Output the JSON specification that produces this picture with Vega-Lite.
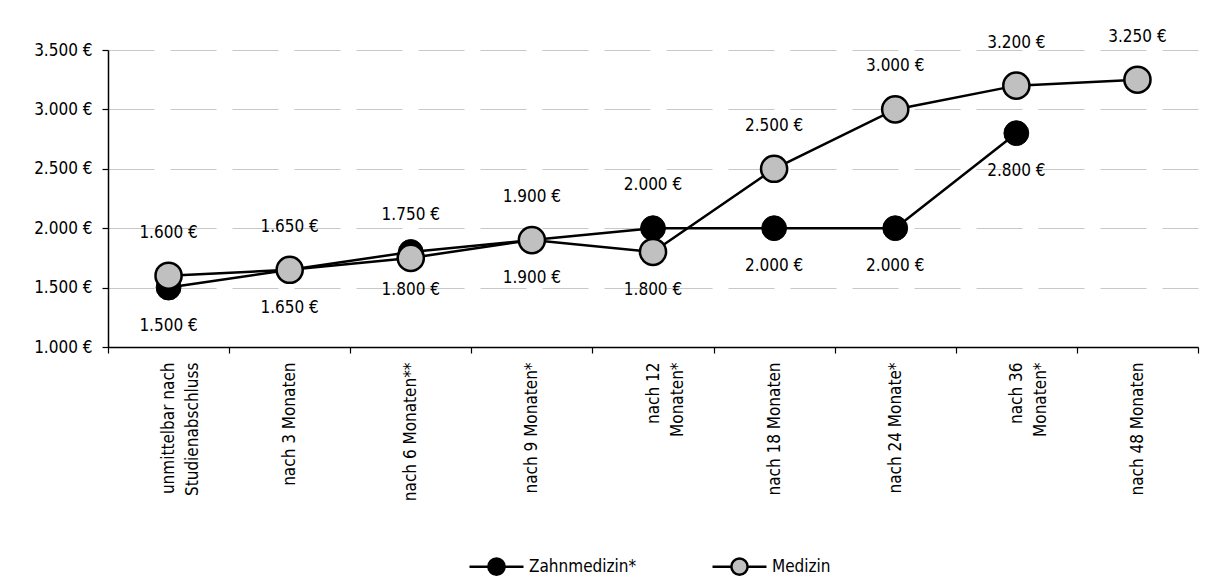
{
  "$schema": "https://vega.github.io/schema/vega-lite/v6.json",
  "width": 1090,
  "height": 297,
  "autosize": {"type": "none"},
  "padding": {"left": 108, "top": 50, "right": 8, "bottom": 239},
  "background": "white",
  "config": {
    "view": {"stroke": null},
    "font": "DejaVu Sans Condensed, Liberation Sans Narrow, sans-serif",
    "locale": {"number": {"decimal": ",", "thousands": ".", "grouping": [3], "currency": ["", " €"]}}
  },
  "data": {
    "values": [
      {"zeit": "unmittelbar nach Studienabschluss", "reihe": "Zahnmedizin*", "wert": 1500},
      {"zeit": "nach 3 Monaten", "reihe": "Zahnmedizin*", "wert": 1650},
      {"zeit": "nach 6 Monaten**", "reihe": "Zahnmedizin*", "wert": 1800},
      {"zeit": "nach 9 Monaten*", "reihe": "Zahnmedizin*", "wert": 1900},
      {"zeit": "nach 12 Monaten*", "reihe": "Zahnmedizin*", "wert": 2000},
      {"zeit": "nach 18 Monaten", "reihe": "Zahnmedizin*", "wert": 2000},
      {"zeit": "nach 24 Monate*", "reihe": "Zahnmedizin*", "wert": 2000},
      {"zeit": "nach 36 Monaten*", "reihe": "Zahnmedizin*", "wert": 2800},
      {"zeit": "unmittelbar nach Studienabschluss", "reihe": "Medizin", "wert": 1600},
      {"zeit": "nach 3 Monaten", "reihe": "Medizin", "wert": 1650},
      {"zeit": "nach 6 Monaten**", "reihe": "Medizin", "wert": 1750},
      {"zeit": "nach 9 Monaten*", "reihe": "Medizin", "wert": 1900},
      {"zeit": "nach 12 Monaten*", "reihe": "Medizin", "wert": 1800},
      {"zeit": "nach 18 Monaten", "reihe": "Medizin", "wert": 2500},
      {"zeit": "nach 24 Monate*", "reihe": "Medizin", "wert": 3000},
      {"zeit": "nach 36 Monaten*", "reihe": "Medizin", "wert": 3200},
      {"zeit": "nach 48 Monaten", "reihe": "Medizin", "wert": 3250}
    ]
  },
  "encoding": {
    "x": {
      "field": "zeit",
      "type": "nominal",
      "sort": ["unmittelbar nach Studienabschluss", "nach 3 Monaten", "nach 6 Monaten**", "nach 9 Monaten*", "nach 12 Monaten*", "nach 18 Monaten", "nach 24 Monate*", "nach 36 Monaten*", "nach 48 Monaten"],
      "scale": {"type": "band", "paddingInner": 0, "paddingOuter": 0},
      "axis": {
        "title": null,
        "labelAngle": -90,
        "labelAlign": "right",
        "labelBaseline": "middle",
        "labelFontSize": 17,
        "labelColor": "black",
        "labelLineHeight": 24,
        "labelLimit": 400,
        "labelPadding": 9,
        "domainColor": "black",
        "domainWidth": 1.5,
        "tickColor": "black",
        "tickSize": 6,
        "tickWidth": 1.2,
        "tickBand": "extent",
        "grid": false,
        "labelExpr": "datum.value == 'unmittelbar nach Studienabschluss' ? ['unmittelbar nach', 'Studienabschluss'] : datum.value == 'nach 12 Monaten*' ? ['nach 12', 'Monaten*'] : datum.value == 'nach 36 Monaten*' ? ['nach 36', 'Monaten*'] : datum.label"
      }
    },
    "y": {
      "field": "wert",
      "type": "quantitative",
      "scale": {"domain": [1000, 3500], "nice": false, "zero": false},
      "axis": {
        "title": null,
        "values": [1000, 1500, 2000, 2500, 3000, 3500],
        "format": "$,.0f",
        "labelFontSize": 17,
        "labelColor": "black",
        "labelPadding": 10,
        "domainColor": "black",
        "domainWidth": 1.5,
        "tickColor": "black",
        "tickSize": 6,
        "tickWidth": 1.2,
        "grid": true,
        "gridColor": "#c8c8c8",
        "gridDash": [46, 16],
        "gridWidth": 1.2
      }
    }
  },
  "layer": [
    {
      "mark": {"type": "line", "stroke": "black", "strokeWidth": 2.5},
      "encoding": {"detail": {"field": "reihe", "type": "nominal"}}
    },
    {
      "transform": [{"filter": "datum.reihe == 'Zahnmedizin*'"}],
      "mark": {"type": "point", "shape": "circle", "filled": true, "opacity": 1, "size": 616, "stroke": "black", "strokeWidth": 1},
      "encoding": {
        "fill": {
          "field": "reihe",
          "type": "nominal",
          "scale": {"domain": ["Zahnmedizin*", "Medizin"], "range": ["black", "#c0c0c0"]},
          "legend": {
            "title": null,
            "orient": "none",
            "legendX": 378,
            "legendY": 506,
            "direction": "horizontal",
            "symbolType": "M-3,0H-0.9M0.9,0H3M-0.9,0A0.9,0.9,0,1,1,0.9,0A0.9,0.9,0,1,1,-0.9,0Z",
            "symbolSize": 324,
            "symbolStrokeColor": "black",
            "symbolStrokeWidth": 2.5,
            "symbolOpacity": 1,
            "labelFontSize": 17,
            "labelColor": "black",
            "labelOffset": 22,
            "columnPadding": 70
          }
        }
      }
    },
    {
      "transform": [{"filter": "datum.reihe == 'Medizin'"}],
      "mark": {"type": "point", "shape": "circle", "filled": true, "opacity": 1, "size": 683, "stroke": "black", "strokeWidth": 2.5},
      "encoding": {
        "fill": {"field": "reihe", "type": "nominal"}
      }
    },
    {
      "transform": [{"filter": "(datum.reihe == 'Medizin' && datum.zeit != 'nach 12 Monaten*') || (datum.reihe == 'Zahnmedizin*' && datum.zeit == 'nach 12 Monaten*')"}],
      "mark": {"type": "text", "fontSize": 17, "color": "black", "baseline": "middle", "align": "center", "dy": -43},
      "encoding": {"text": {"field": "wert", "type": "quantitative", "format": "$,.0f"}}
    },
    {
      "transform": [{"filter": "(datum.reihe == 'Zahnmedizin*' && datum.zeit != 'nach 12 Monaten*') || (datum.reihe == 'Medizin' && datum.zeit == 'nach 12 Monaten*')"}],
      "mark": {"type": "text", "fontSize": 17, "color": "black", "baseline": "middle", "align": "center", "dy": 38},
      "encoding": {"text": {"field": "wert", "type": "quantitative", "format": "$,.0f"}}
    }
  ]
}
